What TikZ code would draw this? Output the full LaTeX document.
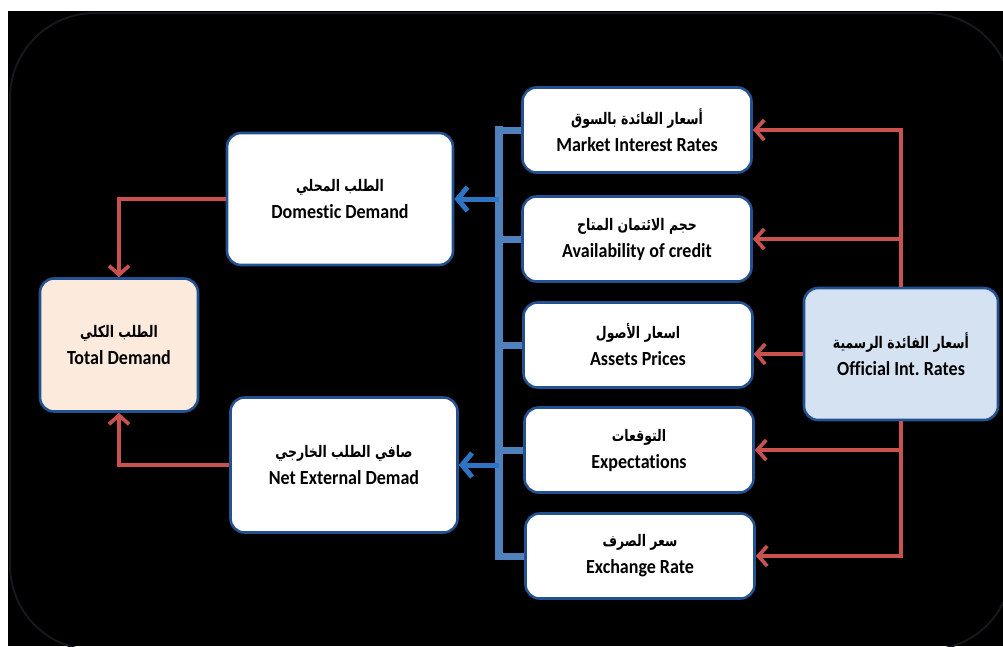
\documentclass[tikz,border=0pt]{standalone}
\usepackage{fontspec}
\setmainfont{Carlito}[FakeStretch=0.9,Ligatures=NoCommon]
\newfontfamily\arabicfont[Script=Arabic,FakeStretch=0.78,BoldFont={DejaVu Sans Bold},BoldFeatures={FakeStretch=0.78}]{DejaVu Sans}
\TeXXeTstate=1
\usepackage{xcolor}
\usetikzlibrary{arrows.meta}
\definecolor{boxline}{HTML}{24518F}
\definecolor{redline}{HTML}{C9524E}
\definecolor{busblue}{HTML}{4F81BD}
\definecolor{arrowblue}{HTML}{2F74C2}
\definecolor{peach}{HTML}{FCEBDD}
\definecolor{paleblue}{HTML}{D5E2F2}
\definecolor{frameline}{HTML}{15181D}
\newcommand{\bitext}[2]{{\arabicfont\bfseries\fontsize{16}{27}\selectfont\beginR #1\endR}\\#2}

\begin{document}
\begin{tikzpicture}[x=1pt,y=-1pt,
  box/.style={draw=boxline,line width=2.6pt,rounded corners=14pt,fill=white,
    align=center,font=\fontsize{20}{27}\selectfont\bfseries},
  smallbox/.style={box,minimum width=229pt,minimum height=85pt},
  redarrow/.style={draw=redline,line width=3.6pt,-{Straight Barb[length=9pt,width=20pt]}},
  bluearrow/.style={draw=arrowblue,line width=5pt,-{Straight Barb[length=10pt,width=24pt]}},
  busline/.style={draw=busblue,line width=8pt},
  busbranch/.style={draw=busblue,line width=7pt}]
\useasboundingbox (0,0) rectangle (1003,646);
\fill[white] (0,0) rectangle (1003,646);
\fill[black] (8,11) rectangle (1003,646);
\begin{scope}
\clip (8,11) rectangle (1003,646);
\draw[frameline,line width=2pt,rounded corners=85pt] (10,13) rectangle (1012,650);
\end{scope}

\node[smallbox] (mkt) at (637,130) {\bitext{أسعار الفائدة بالسوق}{Market Interest Rates}};
\node[smallbox] (avl) at (637,239) {\bitext{حجم الائتمان المتاح}{Availability of credit}};
\node[smallbox] (ast) at (638,345) {\bitext{اسعار الأصول}{Assets Prices}};
\node[smallbox] (exp) at (639,450) {\bitext{التوقعات}{Expectations}};
\node[smallbox] (xrt) at (640,556) {\bitext{سعر الصرف}{Exchange Rate}};
\node[box,minimum width=226pt,minimum height=132pt] (dom) at (340,199) {\bitext{الطلب المحلي}{Domestic Demand}};
\node[box,minimum width=227pt,minimum height=135pt] (net) at (344,465) {\bitext{صافي الطلب الخارجي}{Net External Demad}};
\node[box,fill=peach,minimum width=158pt,minimum height=133pt] (tot) at (119,345) {\bitext{الطلب الكلي}{Total Demand}};
\node[box,fill=paleblue,minimum width=194pt,minimum height=132pt] (ofc) at (901,354) {\bitext{أسعار الفائدة الرسمية}{Official Int.\ Rates}};

\coordinate (bustop) at (499,126);
\coordinate (busbot) at (499,560);
\draw[busline] (bustop) -- (busbot);
\foreach \b in {mkt,avl,ast,exp,xrt}
  \draw[busbranch] (\b.west -| bustop) -- (\b.west);
\draw[bluearrow] (dom.east -| bustop) -- (dom.east);
\draw[bluearrow] (net.east -| bustop) -- (net.east);

\draw[redarrow] (ofc.north) |- (mkt.east);
\draw[redarrow] (ofc.north) |- (avl.east);
\draw[redarrow] (ofc.west) -- (ofc.west -| ast.east);
\draw[redarrow] (ofc.south) |- (exp.east);
\draw[redarrow] (ofc.south) |- (xrt.east);
\draw[redarrow] (dom.west) -| (tot.north);
\draw[redarrow] (net.west) -| (tot.south);
\end{tikzpicture}
\end{document}
